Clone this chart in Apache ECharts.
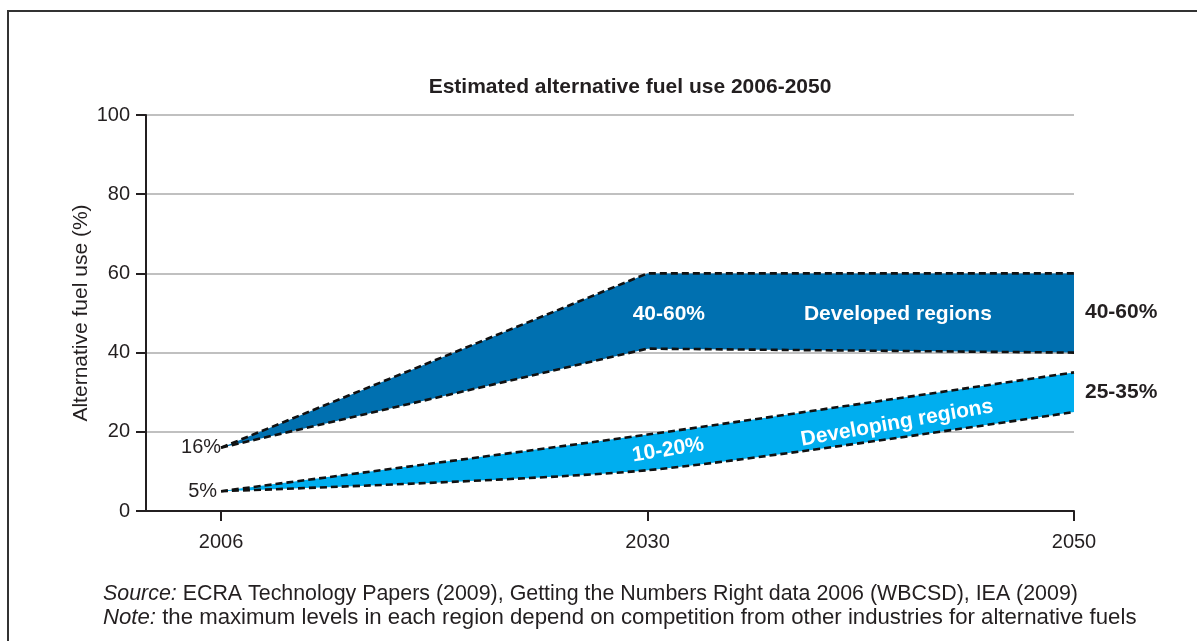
<!DOCTYPE html>
<html>
<head>
<meta charset="utf-8">
<script src="https://cdn.jsdelivr.net/npm/echarts@6/dist/echarts.min.js"></script>
<style>
html,body{margin:0;padding:0;background:#fff;}
#chart{width:1197px;height:641px;}
</style>
</head>
<body>
<div id="chart"></div>
<script>
// ---- data ----
const years = ['2006', '2030', '2050'];
const yTicks = [0, 20, 40, 60, 80, 100];
const developedLow = [16, 41, 40];
const developedHigh = [16, 60, 60];
const developingLow = [5, 10.3, 25];
const developingHigh = [5, 19.3, 35];
const startLabels = ['16%', '5%'];
const bandTexts = ['40-60%', 'Developed regions', '10-20%', 'Developing regions'];
const endTexts = ['40-60%', '25-35%'];
const chartTitle = 'Estimated alternative fuel use 2006-2050';
const yName = 'Alternative fuel use (%)';
const sourceText = 'ECRA Technology Papers (2009), Getting the Numbers Right data 2006 (WBCSD), IEA (2009)';
const noteText = 'the maximum levels in each region depend on competition from other industries for alternative fuels';

// ---- styles ----
const FONT = '"Liberation Sans", Arial, Helvetica, sans-serif';
const DARK = '#0070b0';
const LIGHT = '#00aeef';
const TXT = '#231f20';
const dashStyle = { color: '#111', width: 2.6, type: [7, 4] };

const idx = years.map((_, i) => i);
// items are [value, categoryIndex] so that stacking works on the value dimension
function lowData(arr) { return arr.map((v, i) => [v, i]); }
function diffData(hi, lo) { return hi.map((v, i) => [v - lo[i], i]); }

const bandLabel = (text, rotate) => ({
  show: true, formatter: text, color: '#fff', fontWeight: 'bold', fontSize: 21,
  fontFamily: FONT, rotate: rotate
});
const endLabel = (text) => ({
  show: true, position: 'right', distance: 11, formatter: text, color: TXT,
  fontWeight: 'bold', fontSize: 21, fontFamily: FONT
});
const startLabel = (text, dist) => ({
  show: true, position: 'left', distance: dist, formatter: text, color: TXT,
  fontSize: 20, fontFamily: FONT
});
const enc = { x: 1, y: 0 };

const chart = echarts.init(document.getElementById('chart'), null, { renderer: 'canvas' });
const option = {
  animation: false,
  backgroundColor: '#fff',
  grid: { left: 146, right: 123, top: 115, bottom: 130 },
  xAxis: {
    type: 'value', min: -0.176, max: 2,
    axisLine: { show: true, onZero: false, lineStyle: { color: TXT, width: 2 } },
    axisTick: { show: true, length: 10, lineStyle: { color: TXT, width: 2 }, customValues: idx },
    axisLabel: { customValues: idx, margin: 21, fontFamily: FONT, fontSize: 20, color: TXT,
      formatter: (v) => years[Math.round(v)] },
    splitLine: { show: false }
  },
  yAxis: {
    type: 'value', min: 0, max: 100, interval: 20,
    name: yName, nameLocation: 'middle', nameGap: 54, nameRotate: 90, nameMoveOverlap: false,
    nameTextStyle: { fontFamily: FONT, fontSize: 21, color: TXT },
    axisLine: { show: true, onZero: false, lineStyle: { color: TXT, width: 2 } },
    axisTick: { show: true, length: 10, lineStyle: { color: TXT, width: 2 } },
    axisLabel: { margin: 16, fontFamily: FONT, fontSize: 20, color: TXT,
      formatter: (v) => yTicks.includes(v) ? String(v) : '' },
    splitLine: { show: true, lineStyle: { color: '#c0c0c0', width: 2 } }
  },
  series: [
    {
      name: 'Developed low', type: 'line', stack: 'dev', symbol: 'none', smooth: false,
      encode: enc, data: lowData(developedLow), lineStyle: dashStyle, z: 3
    },
    {
      name: 'Developed', type: 'line', stack: 'dev', symbol: 'none', smooth: false,
      encode: enc, data: diffData(developedHigh, developedLow), lineStyle: dashStyle,
      areaStyle: { color: DARK, opacity: 1 }, z: 2
    },
    {
      name: 'Developing low', type: 'line', stack: 'dvg', symbol: 'none', smooth: 0.25,
      encode: enc, data: lowData(developingLow), lineStyle: dashStyle, z: 3
    },
    {
      name: 'Developing', type: 'line', stack: 'dvg', symbol: 'none', smooth: 0.25,
      encode: enc, data: diffData(developingHigh, developingLow), lineStyle: dashStyle,
      areaStyle: { color: LIGHT, opacity: 1 }, z: 2
    },
    {
      name: 'notes', type: 'line', data: [], symbol: 'none', z: 5,
      markPoint: {
        symbol: 'circle', symbolSize: 0, silent: true,
        data: [
          { coord: [0, developedLow[0]], label: startLabel(startLabels[0], 0) },
          { coord: [0, developingLow[0]], label: startLabel(startLabels[1], 4) },
          { coord: [1.05, 49.7], label: bandLabel(bandTexts[0], 0) },
          { coord: [1.587, 49.7], label: bandLabel(bandTexts[1], 0) },
          { coord: [2, 50.3], label: endLabel(endTexts[0]) },
          { coord: [1.048, 15.4], label: bandLabel(bandTexts[2], 9) },
          { coord: [1.585, 22.2], label: bandLabel(bandTexts[3], 10) },
          { coord: [2, 30], label: endLabel(endTexts[1]) }
        ]
      }
    }
  ],
  graphic: [
    { type: 'rect', silent: true,
      shape: { x: 8, y: 11, width: 1400, height: 800 },
      style: { fill: 'none', stroke: '#333', lineWidth: 2 } },
    { type: 'text', x: 630, y: 87, silent: true,
      style: { text: chartTitle, fontFamily: FONT, fontSize: 21, fontWeight: 'bold', fill: TXT,
        align: 'center', verticalAlign: 'middle' } },
    { type: 'text', x: 103, y: 594, silent: true,
      style: {
        text: '{i|Source:} ' + sourceText, verticalAlign: 'middle',
        fontFamily: FONT, fontSize: 21.4, fill: TXT,
        rich: { i: { fontStyle: 'italic', fontFamily: FONT, fontSize: 21.4, fill: TXT } }
      } },
    { type: 'text', x: 103, y: 618, silent: true,
      style: {
        text: '{i|Note:} ' + noteText, verticalAlign: 'middle',
        fontFamily: FONT, fontSize: 22.2, fill: TXT,
        rich: { i: { fontStyle: 'italic', fontFamily: FONT, fontSize: 22.2, fill: TXT } }
      } }
  ]
};
chart.setOption(option);
</script>
</body>
</html>
